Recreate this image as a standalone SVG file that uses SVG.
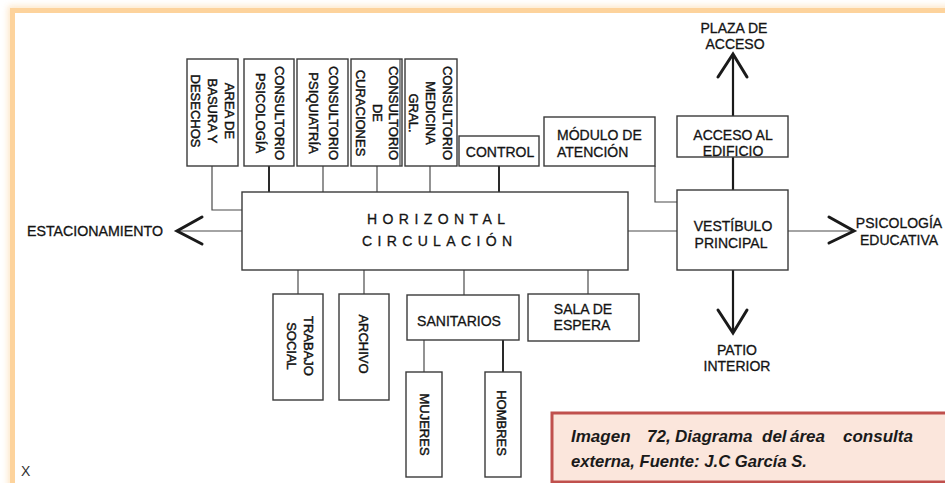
<svg xmlns="http://www.w3.org/2000/svg" width="945" height="483" viewBox="0 0 945 483">
  <defs>
    <style>
      .box { fill: #ffffff; stroke: #3a3a3a; stroke-width: 1.4; }
      .wire { fill: none; stroke: #4a4a4a; stroke-width: 1.2; }
      .wire-b { fill: none; stroke: #2a2a2a; stroke-width: 2; }
      .arrow { fill: none; stroke: #1a1a1a; stroke-width: 2.2; }
      .head { fill: none; stroke: #1a1a1a; stroke-width: 3; stroke-linecap: round; stroke-linejoin: miter; }
      .lbl { font-family: "Liberation Sans", Arial, sans-serif; font-size: 14px; fill: #141414; stroke: #141414; stroke-width: 0.3; }
      .vt { font-family: "Liberation Sans", Arial, sans-serif; font-size: 13px; fill: #111111; stroke: #111111; stroke-width: 0.45; text-anchor: middle; }
      .mid { text-anchor: middle; }
      .cap { font-family: "Liberation Sans", Arial, sans-serif; font-size: 17px; font-weight: bold; font-style: italic; fill: #1a1a1a; }
    </style>
    <filter id="glow" x="-5%" y="-5%" width="110%" height="110%">
      <feGaussianBlur stdDeviation="3"/>
    </filter>
  </defs>

  <rect width="945" height="483" fill="#ffffff"/>

  <!-- page frame -->
  <rect x="12.5" y="10.5" width="950" height="490" fill="none" stroke="#fcd29a" stroke-width="9" opacity="0.55" filter="url(#glow)"/>
  <rect x="12.5" y="10.5" width="950" height="490" fill="#ffffff" stroke="#fdd39c" stroke-width="5"/>

  <!-- connectors -->
  <g id="connectors">
    <polyline class="wire" points="212,166 212,210 242,210"/>
    <line class="wire-b" x1="269" y1="166" x2="269" y2="192"/>
    <line class="wire" x1="323" y1="166" x2="323" y2="192"/>
    <line class="wire" x1="377" y1="166" x2="377" y2="192"/>
    <line class="wire" x1="430" y1="166" x2="430" y2="192"/>
    <line class="wire-b" x1="499" y1="166" x2="499" y2="192"/>
    <polyline class="wire" points="655,166 655,202 677,202"/>
    <line class="wire" x1="628" y1="231" x2="677" y2="231"/>
    <line class="wire" x1="298" y1="270" x2="298" y2="294"/>
    <line class="wire" x1="364" y1="270" x2="364" y2="294"/>
    <line class="wire" x1="464" y1="270" x2="464" y2="295"/>
    <line class="wire" x1="588" y1="270" x2="588" y2="294"/>
    <line class="wire" x1="424" y1="340" x2="424" y2="372"/>
    <line class="wire-b" x1="503" y1="340" x2="503" y2="372"/>
    <line class="arrow" x1="733" y1="157" x2="733" y2="190"/>

    <!-- to parking -->
    <line class="wire" x1="178" y1="231" x2="242" y2="231"/>
    <polyline class="head" points="202,217 177,231 202,244"/>
    <!-- to educational psychology -->
    <line class="wire" x1="788" y1="231" x2="853" y2="231"/>
    <polyline class="head" points="829,217 854,231 829,243"/>
    <!-- to access plaza -->
    <line class="arrow" x1="733" y1="116" x2="733" y2="55"/>
    <polyline class="head" points="718,77 733,54 747,77"/>
    <!-- to inner courtyard -->
    <line class="arrow" x1="733" y1="270" x2="733" y2="332"/>
    <polyline class="head" points="718,310 733,333 747,310"/>
  </g>

  <!-- upper rooms -->
  <g id="basura">
    <rect class="box" x="187" y="59" width="51" height="107"/>
    <text class="vt" transform="translate(224.8,111) rotate(90)">AREA DE</text>
    <text class="vt" transform="translate(207.8,111) rotate(90)">BASURA Y</text>
    <text class="vt" transform="translate(190.8,111) rotate(90)">DESECHOS</text>
  </g>
  <g id="psicologia">
    <rect class="box" x="244" y="59" width="50" height="107"/>
    <text class="vt" transform="translate(274.8,113) rotate(90)">CONSULTORIO</text>
    <text class="vt" transform="translate(255.8,113) rotate(90)">PSICOLOGÍA</text>
  </g>
  <g id="psiquiatria">
    <rect class="box" x="297" y="59" width="51" height="107"/>
    <text class="vt" transform="translate(328.8,113) rotate(90)">CONSULTORIO</text>
    <text class="vt" transform="translate(308.8,113) rotate(90)">PSIQUIATRÍA</text>
  </g>
  <g id="curaciones">
    <rect class="box" x="351" y="59" width="51" height="107"/>
    <line class="wire" x1="400" y1="59" x2="400" y2="166"/>
    <text class="vt" transform="translate(388.8,113) rotate(90)">CONSULTORIO</text>
    <text class="vt" transform="translate(372.8,113) rotate(90)">DE</text>
    <text class="vt" transform="translate(356.3,113) rotate(90)">CURACIONES</text>
  </g>
  <g id="medicina">
    <rect class="box" x="405" y="59" width="52" height="107"/>
    <text class="vt" transform="translate(442.5,113) rotate(90)">CONSULTORIO</text>
    <text class="vt" transform="translate(425.8,113) rotate(90)">MEDICINA</text>
    <text class="vt" transform="translate(408.8,113) rotate(90)">GRAL.</text>
  </g>
  <g id="control">
    <rect class="box" x="459" y="136" width="80" height="30"/>
    <text class="lbl mid" x="500" y="156.5">CONTROL</text>
  </g>
  <g id="modulo">
    <rect class="box" x="544" y="117" width="111" height="49"/>
    <text class="lbl" x="557" y="140">MÓDULO DE</text>
    <text class="lbl" x="557" y="157">ATENCIÓN</text>
  </g>

  <!-- circulation spine -->
  <g id="circulacion">
    <rect class="box" x="242" y="192" width="386" height="78"/>
    <text class="lbl" x="367" y="224" textLength="138" lengthAdjust="spacing">HORIZONTAL</text>
    <text class="lbl" x="362" y="245.5" textLength="150" lengthAdjust="spacing">CIRCULACIÓN</text>
  </g>

  <!-- entrance side -->
  <g id="acceso">
    <rect class="box" x="677" y="116" width="111" height="41"/>
    <text class="lbl mid" x="733" y="140">ACCESO AL</text>
    <text class="lbl mid" x="733" y="156">EDIFICIO</text>
  </g>
  <g id="vestibulo">
    <rect class="box" x="677" y="190" width="111" height="80"/>
    <text class="lbl mid" x="733" y="231">VESTÍBULO</text>
    <text class="lbl mid" x="731" y="248">PRINCIPAL</text>
  </g>
  <g id="plaza">
    <text class="lbl mid" x="734" y="33">PLAZA DE</text>
    <text class="lbl mid" x="735" y="48.5">ACCESO</text>
  </g>
  <g id="educativa">
    <text class="lbl mid" x="899" y="228">PSICOLOGÍA</text>
    <text class="lbl mid" x="899" y="245">EDUCATIVA</text>
  </g>
  <g id="patio">
    <text class="lbl mid" x="737" y="355">PATIO</text>
    <text class="lbl mid" x="737" y="370.5">INTERIOR</text>
  </g>
  <g id="estacionamiento">
    <text class="lbl" x="27" y="236" textLength="136" lengthAdjust="spacingAndGlyphs">ESTACIONAMIENTO</text>
  </g>

  <!-- lower rooms -->
  <g id="trabajo-social">
    <rect class="box" x="273" y="294" width="50" height="106"/>
    <text class="vt" transform="translate(303.8,346) rotate(90)">TRABAJO</text>
    <text class="vt" transform="translate(287.3,346) rotate(90)">SOCIAL</text>
  </g>
  <g id="archivo">
    <rect class="box" x="339" y="294" width="50" height="106"/>
    <text class="vt" transform="translate(359.3,344) rotate(90)">ARCHIVO</text>
  </g>
  <g id="sanitarios">
    <rect class="box" x="407" y="295" width="112" height="45"/>
    <text class="lbl mid" x="459" y="326">SANITARIOS</text>
  </g>
  <g id="sala-espera">
    <rect class="box" x="528" y="294" width="111" height="47"/>
    <text class="lbl mid" x="583" y="314">SALA DE</text>
    <text class="lbl mid" x="582" y="330">ESPERA</text>
  </g>
  <g id="mujeres">
    <rect class="box" x="406" y="372" width="36" height="105"/>
    <text class="vt" transform="translate(419.8,424.5) rotate(90)">MUJERES</text>
  </g>
  <g id="hombres">
    <rect class="box" x="485" y="372" width="36" height="105"/>
    <text class="vt" transform="translate(496.8,423) rotate(90)">HOMBRES</text>
  </g>

  <text x="21" y="476" font-family="Liberation Sans, Arial, sans-serif" font-size="14" fill="#333333">X</text>

  <!-- caption -->
  <g id="caption">
    <rect x="552" y="413" width="400" height="69" fill="#fbe6dc" stroke="#c0504d" stroke-width="3"/>
    <text class="cap" y="442">
      <tspan x="571">Imagen</tspan><tspan x="647">72,</tspan><tspan x="675">Diagrama</tspan><tspan x="762">del</tspan><tspan x="790">área</tspan><tspan x="843">consulta</tspan>
    </text>
    <text class="cap" x="571" y="467" textLength="236" lengthAdjust="spacingAndGlyphs">externa, Fuente: J.C García S.</text>
  </g>
</svg>
